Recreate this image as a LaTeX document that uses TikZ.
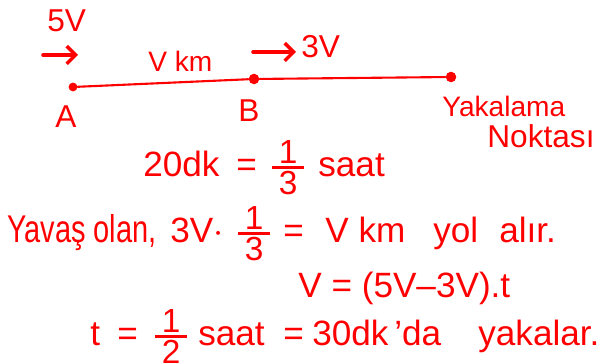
\documentclass[tikz,border=0pt]{standalone}
\usepackage{amsmath}
\usepackage{fontspec}
\setmainfont{Liberation Sans}
\usetikzlibrary{arrows.meta,positioning,calc}
\definecolor{ink}{RGB}{255,0,0}
% stacked fraction with digits touching the bar
\newcommand{\kesir}[2]{$\vcenter{\offinterlineskip\fontsize{19}{19}\selectfont
  \hbox to 0.95em{\hfil #1\hfil}\kern1.5pt\hrule height 1.4pt\kern1.5pt
  \hbox to 0.95em{\hfil #2\hfil}}$}
\tikzset{
  % Handwritten notes: red ink, set on a common baseline
  note/.style={text=ink, font=\fontsize{20}{24}\selectfont, inner sep=0pt, anchor=base west},
  notesm/.style={note, font=\fontsize{18}{22}\selectfont},
  notexs/.style={note, font=\fontsize{16}{20}\selectfont},
  % Points on the road
  stop/.style={circle, fill=ink, inner sep=0pt, minimum size=6pt},
  % Road and direction arrows
  road/.style={draw=ink, line width=1.2pt, line cap=round},
  dirarr/.style={-{Straight Barb[length=5pt,width=10pt]}, draw=ink, line width=2pt, line cap=round}
}

\begin{document}
\begin{tikzpicture}[x=0.02cm, y=-0.02cm]
\useasboundingbox (0,0) rectangle (605,364);

% ============== Road A -- B -- catch point ==============
\node[stop, minimum size=5pt] (A) at (73,87) {};
\node[stop] (B) at (254,79) {};
\node[stop] (C) at (451,77) {};
\draw[road] (A) -- (B) -- (C);

\node[notesm] (lA) at (55,128) {A};
\node[notesm] (lB) at (238,122) {B};
\node[notexs] (lC1) at (442,117) {Yakalama};
\node[notesm] (lC2) at (487,148) {Noktası};

% ============== Speeds ==============
\node[notesm] (v5) at (47,32) {5V};
\coordinate (a5s) at (43,55);
\coordinate (a5e) at (78,55);
\draw[dirarr] (a5s) -- (a5e);

\node[notexs] (vkm) at (148,72) {V km};

\coordinate (a3s) at (253,52);
\coordinate (a3e) at (296,52);
\draw[dirarr] (a3s) -- (a3e);
\node[notesm] (v3) at (301,58) {3V};

% ============== 20dk = 1/3 saat ==============
\node[note] (l1a) at (143,177) {20dk};
\node[note] (l1b) at (236,177) {=};
\node[note] (l1c) at (272,177) {\kesir{1}{3}};
\node[note] (l1d) at (318,177) {saat};

% ============== slower one covers V km ==============
\node[note, font=\fontsize{22}{26}\selectfont] (l2a) at (7,243) {\scalebox{0.75}[1]{Yavaş olan,}};
\node[note] (l2b) at (170,243) {3V$\cdot$};
\node[note] (l2c) at (238,243) {\kesir{1}{3}};
\node[note] (l2d) at (283,243) {=};
\node[note] (l2e) at (325,243) {V km};
\node[note] (l2f) at (433,243) {yol\hspace{0.6em}alır.};

% ============== closing speed ==============
\node[note] (l3) at (298,298) {V = (5V–3V).t};

% ============== catch-up time ==============
\node[note] (l4a) at (90,346) {t};
\node[note] (l4b) at (117,346) {=};
\node[note] (l4c) at (155,346) {\kesir{1}{2}};
\node[note] (l4d) at (198,346) {saat};
\node[note] (l4e) at (283,346) {=};
\node[note] (l4f) at (312,346) {30dk\,'da};
\node[note] (l4g) at (478,346) {yakalar.};

\end{tikzpicture}
\end{document}
